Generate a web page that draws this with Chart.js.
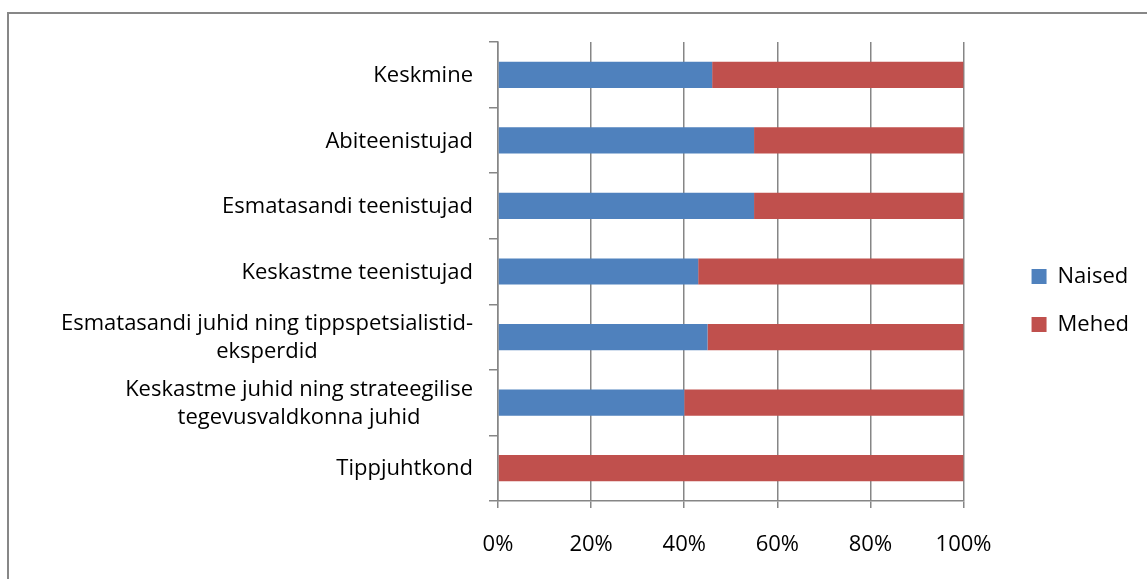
<!DOCTYPE html>
<html lang="et">
<head>
    <meta charset="UTF-8" />
    <title>Naised ja mehed ametigruppides</title>
    <script src="https://cdn.jsdelivr.net/npm/chart.js"></script>
    <style>
        body {
            margin: 0;
            padding: 0;
            background: #fff;
            font-family: 'Open Sans', sans-serif;
        }

        .wrap {
            position: relative;
            width: 1147px;
            height: 579px;
            overflow: hidden;
        }

        .frame {
            position: absolute;
            left: 7px;
            top: 12px;
            width: 1200px;
            height: 700px;
            border-left: 2px solid #878787;
            border-top: 2px solid #878787;
        }

        canvas {
            position: absolute;
            left: 0;
            top: 0;
        }
    </style>
</head>
<body>
    <div class="wrap">
        <div class="frame"></div>
        <canvas id="barChart" width="1147" height="579"></canvas>
    </div>

    <script>
        const categories = [
            'Keskmine',
            'Abiteenistujad',
            'Esmatasandi teenistujad',
            'Keskastme teenistujad',
            ['Esmatasandi juhid ning tippspetsialistid-', 'eksperdid'],
            ['Keskastme juhid ning strateegilise', 'tegevusvaldkonna juhid'],
            'Tippjuhtkond'
        ];
        const naised = [46, 55, 55, 43, 45, 40, 0];
        const mehed = [54, 45, 45, 57, 55, 60, 100];
        const xTicks = ['0%', '20%', '40%', '60%', '80%', '100%'];

        const gridColor = '#868686';
        const labelFont = '22px "Open Sans", sans-serif';

        // category labels: block right-aligned, lines centred on each other
        const categoryLabels = {
            id: 'categoryLabels',
            afterLayout(chart) {
                // legend sits further right and a bit higher than chart.js puts it
                chart.legend.left += 42;
                chart.legend.right += 42;
                chart.legend.top -= 10;
                chart.legend.bottom -= 10;
            },
            afterDraw(chart) {
                const ctx = chart.ctx;
                const y = chart.scales.y;
                const right = y.right - 25;
                const lineH = 28;
                ctx.save();
                ctx.font = labelFont;
                ctx.fillStyle = '#000';
                ctx.textAlign = 'center';
                ctx.textBaseline = 'middle';
                categories.forEach((lab, i) => {
                    const lines = Array.isArray(lab) ? lab : [lab];
                    const w = Math.max(...lines.map(l => ctx.measureText(l).width));
                    const cx = right - w / 2;
                    const cy = y.getPixelForValue(i) + 1;
                    lines.forEach((l, j) => {
                        ctx.fillText(l, cx, cy + (j - (lines.length - 1) / 2) * lineH);
                    });
                });
                ctx.restore();
            }
        };

        new Chart(document.getElementById('barChart').getContext('2d'), {
            type: 'bar',
            data: {
                labels: categories,
                datasets: [
                    {
                        label: 'Naised',
                        data: naised,
                        backgroundColor: '#4F81BD',
                        barPercentage: 0.4,
                        categoryPercentage: 1
                    },
                    {
                        label: 'Mehed',
                        data: mehed,
                        backgroundColor: '#C0504D',
                        barPercentage: 0.4,
                        categoryPercentage: 1
                    }
                ]
            },
            options: {
                indexAxis: 'y',
                responsive: false,
                animation: false,
                layout: {
                    padding: { top: 42, right: 50, bottom: 0, left: 0 }
                },
                scales: {
                    x: {
                        stacked: true,
                        min: 0,
                        max: 100,
                        afterFit(scale) { scale.height = 78; },
                        grid: {
                            color: gridColor,
                            lineWidth: 1.5,
                            tickLength: 7,
                            tickColor: gridColor
                        },
                        border: { color: gridColor, width: 1.5 },
                        ticks: {
                            stepSize: 20,
                            padding: 24,
                            color: '#000',
                            font: { family: 'Open Sans', size: 22 },
                            callback: (v) => xTicks[v / 20]
                        }
                    },
                    y: {
                        stacked: true,
                        offset: true,
                        afterFit(scale) { scale.width = 498; },
                        grid: {
                            offset: true,
                            drawOnChartArea: false,
                            tickLength: 9,
                            color: gridColor,
                            lineWidth: 1.5
                        },
                        border: { color: gridColor, width: 1.5 },
                        ticks: {
                            color: 'rgba(0,0,0,0)',
                            font: { family: 'Open Sans', size: 22 }
                        }
                    }
                },
                plugins: {
                    legend: {
                        position: 'right',
                        align: 'center',
                        labels: {
                            boxWidth: 15,
                            boxHeight: 15,
                            padding: 26,
                            color: '#000',
                            font: { family: 'Open Sans', size: 22 }
                        }
                    },
                    tooltip: { enabled: false }
                }
            },
            plugins: [categoryLabels]
        });
    </script>
</body>
</html>
